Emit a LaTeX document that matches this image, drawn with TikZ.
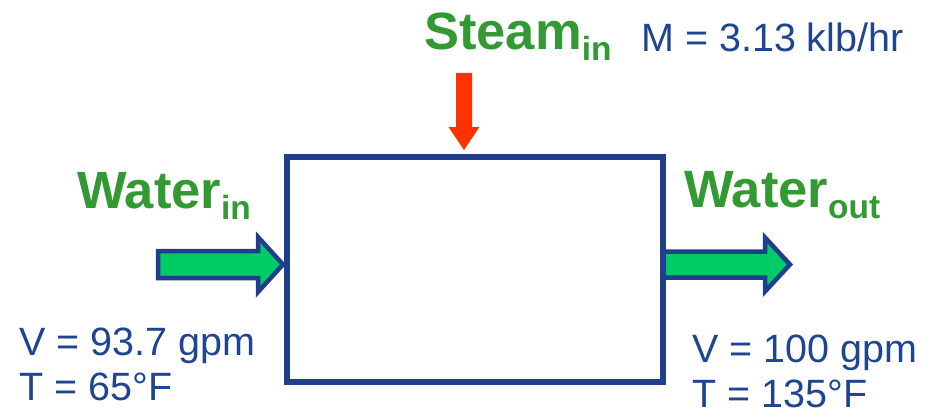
\documentclass[tikz,border=0pt]{standalone}
\usepackage{fontspec}
\setmainfont{Liberation Sans}
\definecolor{boxblue}{HTML}{1F3F8C}
\definecolor{txtblue}{HTML}{1F4591}
\definecolor{lblgreen}{HTML}{339933}
\definecolor{flowgreen}{HTML}{00CC66}
\definecolor{steamred}{HTML}{FF3300}
\newcommand{\bigfs}{\fontsize{52.5}{52}\selectfont\bfseries}
\newcommand{\subfs}[1]{\raisebox{-11pt}{\fontsize{33.5}{33}\selectfont\bfseries #1}}
\tikzset{
  flowlabel/.style={anchor=base west, inner sep=0pt, text=lblgreen, font=\bigfs},
  datalabel/.style={anchor=base west, inner sep=0pt, text depth=0pt, text=txtblue,
    font=\fontsize{39.5}{45}\selectfont},
  blockarrow/.style={draw=boxblue, fill=flowgreen, line width=4.5pt, line join=miter},
  vessel/.style={draw=boxblue, line width=6pt, minimum width=376pt, minimum height=225pt, inner sep=0pt}
}
\begin{document}
\begin{tikzpicture}[x=1pt,y=-1pt]
\useasboundingbox (0,0) rectangle (938,412);
% incoming water
\draw[blockarrow] (158,251) -- (258,251) -- (258,237) -- (283,264.5) -- (258,292) -- (258,278) -- (158,278) -- cycle;
% outgoing water
\draw[blockarrow] (663,251.5) -- (765,251.5) -- (765,237.5) -- (790,264.5) -- (765,291.5) -- (765,277.5) -- (663,277.5) -- cycle;
% heater vessel
\node[vessel] (proc) at (474.75,269.5) {};
% steam feed
\fill[steamred] (456,73) -- (472,73) -- (472,127) -- (479.5,127) -- (464,150) -- (448.5,127) -- (456,127) -- cycle;
% labels
\node[flowlabel] (steam) at (424,50) {Steam\subfs{in}};
\node[datalabel] (mass) at (641,52) {M = 3.13 klb/hr};
\node[flowlabel] (win) at (77,208) {Water\subfs{in}};
\node[flowlabel] (wout) at (684,207) {Water\subfs{out}};
\node[datalabel] (inflow) at (19,355) {V = 93.7 gpm};
\node[datalabel] (intemp) at (19,400) {T = 65°F};
\node[datalabel] (outflow) at (692,362) {V = 100 gpm};
\node[datalabel] (outtemp) at (692,407) {T = 135°F};
\end{tikzpicture}
\end{document}
